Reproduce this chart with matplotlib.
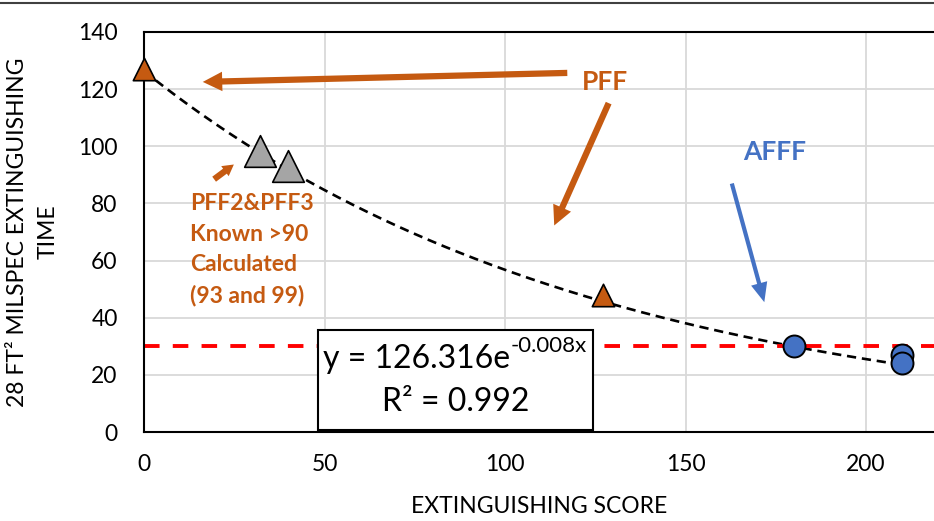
import numpy as np
import matplotlib.pyplot as plt
from matplotlib.lines import Line2D
from matplotlib.patches import Rectangle

plt.rcParams['font.family'] = ['Lato', 'DejaVu Sans']

# data
pff_x = [0, 127]
pff_y = [127, 48]
pff23_x = [32, 40]
pff23_y = [98.5, 93]
afff_x = [180, 210, 210]
afff_y = [30, 27, 24]
fit_a, fit_b = 126.316, -0.008
milspec_limit = 30
xticks = [0, 50, 100, 150, 200]
yticks = [0, 20, 40, 60, 80, 100, 120, 140]

ORANGE = "#C55A11"
BLUE = "#4472C4"
GRAY = "#A5A5A5"

fig = plt.figure(figsize=(9.34, 5.21), dpi=100)
ax = fig.add_axes([0.1542, 0.1708, 0.8458, 0.7678])
ax.set_xlim(0, 218.8)
ax.set_ylim(0, 140)
ax.set_xticks(xticks)
ax.set_yticks(yticks)
ax.grid(True, color="#D9D9D9", linewidth=1.3)
ax.set_axisbelow(True)
for side in ["left", "bottom", "top"]:
    ax.spines[side].set_linewidth(1.5)
    ax.spines[side].set_color("black")
ax.spines["right"].set_visible(False)
ax.tick_params(length=0, labelsize=16.5, pad=16)
ax.tick_params(axis="y", pad=19)

# trendline and limit
xx = np.linspace(0, 210, 200)
ax.plot(xx, fit_a * np.exp(fit_b * xx), ls=(0, (3.5, 2.2)), color="black", lw=1.9, zorder=2)
ax.axhline(milspec_limit, color="red", ls=(0, (4, 3.4)), lw=2.8, zorder=2)

ax.scatter(pff_x, pff_y, marker="^", s=260, color=ORANGE, edgecolor="black", lw=1.2, zorder=3, clip_on=False)
ax.scatter(pff23_x, pff23_y, marker="^", s=520, color=GRAY, edgecolor="black", lw=1.2, zorder=3)
ax.scatter(afff_x, afff_y, marker="o", s=250, color=BLUE, edgecolor="black", lw=1.4, zorder=3)

# annotations
big = dict(arrowstyle="simple,head_width=1.4,head_length=1.4,tail_width=0.45", color=ORANGE, lw=0)
ax.annotate("", xy=(15.5, 122.5), xytext=(118, 125.7), arrowprops=big)
ax.annotate("", xy=(113.3, 71.4), xytext=(129, 116), arrowprops=big)
ax.annotate("", xy=(172, 44.5), xytext=(162.6, 87.9),
            arrowprops=dict(arrowstyle="simple,head_width=1.2,head_length=1.4,tail_width=0.3", color=BLUE, lw=0))
ax.annotate("", xy=(25.5, 94.2), xytext=(18.8, 87.9),
            arrowprops=dict(arrowstyle="simple,head_width=0.9,head_length=0.8,tail_width=0.45", color=ORANGE, lw=0))

ax.text(127.7, 122.5, "PFF", color=ORANGE, fontsize=19, fontweight="bold", ha="center", va="center")
ax.text(174.8, 98, "AFFF", color=BLUE, fontsize=19, fontweight="bold", ha="center", va="center")
ax.text(12.7, 83.5, "PFF2&PFF3\nKnown >90\nCalculated\n(93 and 99)", color=ORANGE, fontsize=16.5,
        fontweight="bold", ha="left", va="top", linespacing=1.55)

# equation box
ax.add_patch(Rectangle((48.2, 0.6), 76.2, 35.1, fc="white", ec="black", lw=1.5, zorder=5))
eq = ax.text(49.6, 25.6, "y = 126.316e", fontsize=23, ha="left", va="center", zorder=6)
ax.annotate("-0.008x", xy=(1.0, 0.6), xycoords=eq, fontsize=16, ha="left", va="bottom", zorder=6)
ax.text(86.3, 10.5, "R² = 0.992", fontsize=23, ha="center", va="center", zorder=6)

ax.set_xlabel("EXTINGUISHING SCORE", fontsize=16.5, labelpad=15)
ax.set_ylabel("28 FT² MILSPEC EXTINGUISHING\nTIME", fontsize=16.5, labelpad=14, linespacing=1.55)

fig.add_artist(Line2D([0, 1], [0.994, 0.994], color="#404040", lw=1.5, transform=fig.transFigure))

fig.savefig("out.png", dpi=100)
